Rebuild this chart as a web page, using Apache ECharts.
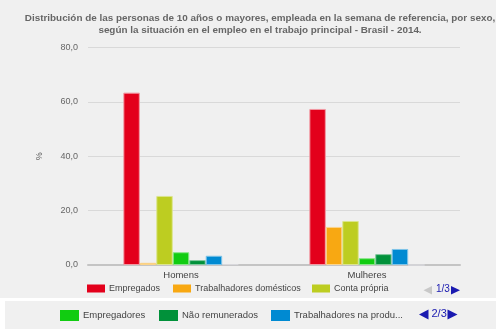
<!DOCTYPE html>
<html>
<head>
<meta charset="utf-8">
<script src="https://cdn.jsdelivr.net/npm/echarts@6/dist/echarts.min.js"></script>
<style>
html,body{margin:0;padding:0;background:#fff;width:496px;height:329px;overflow:hidden;}
#bg1{position:absolute;left:0;top:0;width:496px;height:298px;background:#f0f0f0;}
#bg2{position:absolute;left:5px;top:301px;width:491px;height:28px;background:#f0f0f0;}
#chart{position:absolute;left:0;top:0;width:496px;height:329px;}
</style>
</head>
<body>
<div id="bg1"></div>
<div id="bg2"></div>
<div id="chart"></div>
<script>
const titleText = 'Distribución de las personas de 10 años o mayores, empleada en la semana de referencia, por sexo,\nsegún la situación en el empleo en el trabajo principal - Brasil - 2014.';
const categories = ['Homens', 'Mulheres'];
const seriesNames = [
  'Empregados',
  'Trabalhadores domésticos',
  'Conta própria',
  'Empregadores',
  'Não remunerados',
  'Trabalhadores na produção para o próprio consumo',
  'Trabalhadores na construção para o próprio uso'
];
const empregados = [63.4, 57.4];
const domesticos = [0.8, 14.0];
const contaPropria = [25.4, 16.2];
const empregadores = [4.7, 2.5];
const naoRemunerados = [1.8, 4.0];
const producaoConsumo = [3.4, 5.9];
const construcaoUso = [0.3, 0.0];
const yMin = 0, yMax = 80, yStep = 20;
const pagerTexts = ['1/3', '2/3'];

const values = [empregados, domesticos, contaPropria, empregadores, naoRemunerados, producaoConsumo, construcaoUso];
const colors = ['#e3001b', '#f8a812', '#bdcd21', '#11cc11', '#01913a', '#008ad2', '#b1b1bb'];
const borders = ['#f29aa4', '#fbd48c', '#dbe58e', '#88e688', '#7fc89c', '#7fc4e8', '#d8d8dd'];

const series = seriesNames.map((n, i) => ({
  name: n,
  type: 'bar',
  data: values[i],
  barGap: '0%',
  barCategoryGap: '38%',
  itemStyle: { color: colors[i], borderColor: borders[i], borderWidth: 1 }
}));

// legend layout: [seriesIndex, left, top, itemW, itemH, fontSize]
const legendLayout = [
  [0, 87, 284, 18, 8, 9],
  [1, 173, 284, 18, 8, 9],
  [2, 312, 284, 18, 8, 9],
  [3, 60, 310, 19, 11, 9.5],
  [4, 159, 310, 19, 11, 9.5],
  [5, 271, 310, 19, 11, 9.5]
];
const legends = legendLayout.map(l => ({
  data: [seriesNames[l[0]]],
  left: l[1], top: l[2],
  itemWidth: l[3], itemHeight: l[4],
  padding: 0,
  icon: 'rect',
  selectedMode: false,
  formatter: name => name.length > 24 ? name.slice(0, 22) + '...' : name,
  textStyle: { fontFamily: 'Liberation Sans, Arial', fontSize: l[5], color: '#444', padding: [0, 0, 0, -1] },
  itemStyle: { borderWidth: 0 }
}));

const pagerBlue = '#1a1ab0';
const graphics = [
  { type: 'polygon', shape: { points: [[432, 286], [432, 294.5], [423.5, 290.2]] }, style: { fill: '#c8c8c8' } },
  { type: 'text', left: 436, top: 284.5, style: { text: pagerTexts[0], fill: pagerBlue, font: '10px Liberation Sans, Arial' } },
  { type: 'polygon', shape: { points: [[451, 286], [451, 294.5], [460, 290.2]] }, style: { fill: pagerBlue } },
  { type: 'polygon', shape: { points: [[428.5, 309.5], [428.5, 319.5], [419, 314.5]] }, style: { fill: pagerBlue } },
  { type: 'text', left: 431.5, top: 308.5, style: { text: pagerTexts[1], fill: pagerBlue, font: '11px Liberation Sans, Arial' } },
  { type: 'polygon', shape: { points: [[447.5, 309.5], [447.5, 319.5], [457.5, 314.5]] }, style: { fill: pagerBlue } }
];

const chart = echarts.init(document.getElementById('chart'), null, { renderer: 'canvas' });
chart.setOption({
  backgroundColor: 'transparent',
  animation: false,
  title: {
    text: titleText,
    left: 255, top: 7, textAlign: 'center',
    textStyle: { fontFamily: 'Liberation Sans, Arial', fontSize: 9.9, fontWeight: 'bold', color: '#666', lineHeight: 12 }
  },
  grid: { left: 88, right: 36, top: 47.5, bottom: 64, containLabel: false },
  legend: legends,
  xAxis: {
    type: 'category',
    data: categories,
    axisTick: { show: false },
    axisLine: { lineStyle: { color: '#c4c4c4', width: 2 } },
    axisLabel: { margin: 5, fontFamily: 'Liberation Sans, Arial', fontSize: 9.5, color: '#444' }
  },
  yAxis: {
    type: 'value',
    min: yMin, max: yMax, interval: yStep,
    name: '%',
    nameLocation: 'middle',
    nameGap: 44,
    nameTextStyle: { fontFamily: 'Liberation Sans, Arial', fontSize: 9, color: '#555' },
    axisLine: { show: false },
    axisTick: { show: false },
    splitLine: { lineStyle: { color: '#d9d9d9', width: 1 } },
    axisLabel: {
      margin: 10,
      fontFamily: 'Liberation Sans, Arial', fontSize: 9, color: '#666',
      formatter: v => v.toFixed(1).replace('.', ',')
    }
  },
  graphic: graphics,
  series: series
});
</script>
</body>
</html>
